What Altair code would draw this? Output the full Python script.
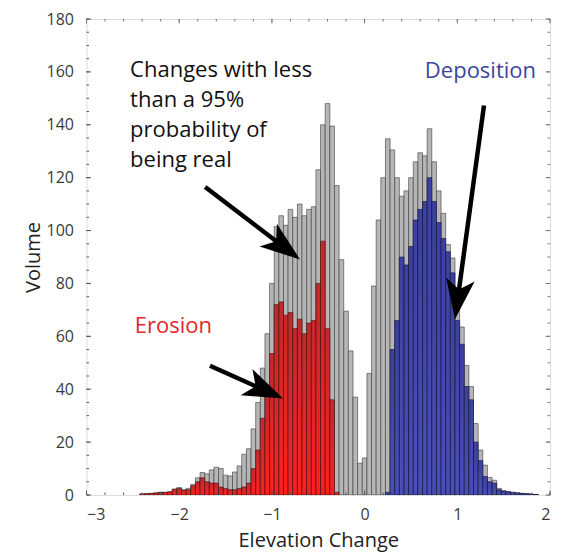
import math
import numpy as np
import pandas as pd
import altair as alt

# ---- data (bin centres every 0.05) ----
centers = [round(v, 2) for v in np.arange(-2.40, 1.851, 0.05)]
total = [0.4, 0.5, 0.6, 0.8, 1.0, 1.0, 1.2, 2.2, 2.8, 2.0,
         2.5, 4.0, 6.5, 8.5, 8.0, 9.5, 10.5, 10.0, 7.5, 7.2,
         8.7, 11.0, 15.4, 17.5, 25.0, 35.0, 48.0, 61.0, 80.0, 101.5,
         105.6, 102.0, 108.0, 105.0, 110.0, 105.6, 108.0, 109.0, 123.0, 140.0,
         148.0, 139.5, 117.0, 89.0, 69.5, 54.5, 37.0, 12.0, 14.0, 46.0,
         79.0, 104.0, 120.0, 134.7, 130.5, 120.0, 113.0, 115.0, 120.0, 126.0,
         129.4, 128.3, 138.5, 126.0, 115.0, 106.5, 94.7, 89.6, 70.0, 63.5,
         49.0, 41.0, 27.0, 17.0, 11.3, 6.6, 5.6, 2.5, 1.6, 1.3,
         1.0, 0.8, 0.6, 0.5, 0.3, 0.2]
significant = [0.4, 0.5, 0.6, 0.8, 1.0, 1.0, 1.2, 2.2, 2.5, 1.8,
               2.0, 3.5, 5.0, 6.5, 5.0, 4.5, 4.5, 3.0, 2.5, 2.0,
               2.0, 2.5, 3.0, 4.5, 10.0, 17.0, 29.0, 40.0, 53.5, 72.0,
               73.0, 68.0, 69.0, 63.0, 66.5, 61.0, 65.0, 66.0, 80.0, 96.0,
               63.0, 36.0, 1.0, 0, 0, 0, 0, 0, 0, 0,
               0, 0, 0, 1.0, 55.0, 66.0, 90.0, 87.0, 94.0, 104.0,
               108.0, 111.0, 120.0, 111.0, 103.0, 97.0, 92.0, 84.0, 66.0, 57.0,
               41.0, 36.0, 20.0, 13.0, 7.0, 5.0, 4.5, 2.0, 1.5, 1.2,
               1.0, 0.8, 0.6, 0.5, 0.3, 0.2]
bin_width = 0.05

x_major = [-3, -2, -1, 0, 1, 2]
x_minor = [round(v, 1) for v in np.arange(-3, 2.01, 0.2)]
y_major = list(range(0, 181, 20))
y_minor = list(range(0, 181, 5))

# annotations (data coordinates)
labels = ["Changes with less", "than a 95%", "probability of", "being real", "Deposition", "Erosion"]
label_x = [-2.53, -2.53, -2.53, -2.53, 0.65, -2.48]
label_y = [160.8, 149.4, 138.0, 126.6, 160.3, 64.0]
label_color = ["#111111", "#111111", "#111111", "#111111", "#3b469c", "#e4262a"]

arrow_x0 = [-1.72, -1.668, 1.288]
arrow_y0 = [116.5, 48.9, 147.3]
arrow_x1 = [-0.697, -0.88, 0.975]
arrow_y1 = [89.1, 36.5, 66.5]

W, H = 463.5, 476
XD = [-3, 2]
YD = [0, 180]
sx = W / (XD[1] - XD[0])
sy = H / (YD[1] - YD[0])
HEAD = 40  # px length of arrow head

df = pd.DataFrame({"c": centers, "total": total, "sig": significant})
df["x0"] = df["c"] - bin_width / 2
df["x1"] = df["c"] + bin_width / 2

xs = alt.Scale(domain=XD, nice=False, zero=False)
ys = alt.Scale(domain=YD, nice=False)

font = "Open Sans"

gray = alt.Chart(df).mark_bar(fill="#b6b6b6", stroke="#3a3a3a", strokeWidth=0.6, clip=True).encode(
    x=alt.X("x0:Q", scale=xs, axis=alt.Axis(values=x_major, format="d", grid=False, ticks=False, domain=False,
                                            labelFontSize=16, labelColor="#3a3a3a", labelFont=font, labelPadding=11,
                                            title="Elevation Change", titleFontSize=20, titleFont=font,
                                            titleFontWeight="normal", titleColor="#222222", titlePadding=8)),
    x2="x1:Q",
    y=alt.Y("total:Q", scale=ys, axis=alt.Axis(values=y_major, grid=False, ticks=False, domain=False,
                                               labelFontSize=16, labelColor="#3a3a3a", labelFont=font, labelPadding=13,
                                               title="Volume", titleFontSize=20, titleFont=font,
                                               titleFontWeight="normal", titleColor="#222222", titlePadding=3)),
    y2=alt.datum(0),
)

red_grad = alt.Gradient(gradient="linear", x1=0, x2=0, y1=0, y2=1,
                        stops=[alt.GradientStop(color="#c02a2e", offset=0),
                               alt.GradientStop(color="#ff2020", offset=1)])
blue_grad = alt.Gradient(gradient="linear", x1=0, x2=0, y1=0, y2=1,
                         stops=[alt.GradientStop(color="#3c40a0", offset=0),
                                alt.GradientStop(color="#4a4eb8", offset=1)])

red = alt.Chart(df).transform_filter("datum.c < 0 && datum.sig > 0").mark_bar(
    fill=red_grad, stroke="#3a1010", strokeWidth=0.6, clip=True).encode(
    x=alt.X("x0:Q", scale=xs), x2="x1:Q", y=alt.Y("sig:Q", scale=ys), y2=alt.datum(0))
blue = alt.Chart(df).transform_filter("datum.c > 0 && datum.sig > 0").mark_bar(
    fill=blue_grad, stroke="#101030", strokeWidth=0.6, clip=True).encode(
    x=alt.X("x0:Q", scale=xs), x2="x1:Q", y=alt.Y("sig:Q", scale=ys), y2=alt.datum(0))

# arrows
rows = []
for a, b, c, d in zip(arrow_x0, arrow_y0, arrow_x1, arrow_y1):
    dx = (c - a) * sx
    dy = -(d - b) * sy
    L = math.hypot(dx, dy)
    ux, uy = dx / L, dy / L
    ang = math.degrees(math.atan2(ux, -uy)) % 360
    hx = c - ux * (HEAD / 2) / sx
    hy = d + uy * (HEAD / 2) / sy
    rows.append({"x0": a, "y0": b, "hx": hx, "hy": hy, "ang": ang})
adf = pd.DataFrame(rows)

arrow_lines = alt.Chart(adf).mark_rule(color="black", strokeWidth=4.5).encode(
    x=alt.X("x0:Q", scale=xs), y=alt.Y("y0:Q", scale=ys), x2="hx:Q", y2="hy:Q")
arrow_heads = alt.Chart(adf).mark_point(
    shape="M0,-1L0.72,1L0,0.5L-0.72,1Z", filled=True, fill="black", opacity=1,
    size=HEAD * HEAD).encode(
    x=alt.X("hx:Q", scale=xs), y=alt.Y("hy:Q", scale=ys), angle=alt.Angle("ang:Q", scale=None))

ldf = pd.DataFrame({"t": labels, "x": label_x, "y": label_y, "col": label_color})
texts = alt.Chart(ldf).mark_text(align="left", baseline="middle", fontSize=22, font=font).encode(
    x=alt.X("x:Q", scale=xs), y=alt.Y("y:Q", scale=ys), text="t:N", color=alt.Color("col:N", scale=None))

# inward ticks on all four sides
def xticks(vals, ln):
    d = pd.DataFrame({"v": vals})
    bot = alt.Chart(d).mark_rule(color="#555555", strokeWidth=1).encode(
        x=alt.X("v:Q", scale=xs), y=alt.value(H), y2=alt.value(H - ln))
    top = alt.Chart(d).mark_rule(color="#777777", strokeWidth=1).encode(
        x=alt.X("v:Q", scale=xs), y=alt.value(0), y2=alt.value(ln))
    return [bot, top]

def yticks(vals, ln):
    d = pd.DataFrame({"v": vals})
    left = alt.Chart(d).mark_rule(color="#555555", strokeWidth=1).encode(
        y=alt.Y("v:Q", scale=ys), x=alt.value(0), x2=alt.value(ln))
    right = alt.Chart(d).mark_rule(color="#777777", strokeWidth=1).encode(
        y=alt.Y("v:Q", scale=ys), x=alt.value(W), x2=alt.value(W - ln))
    return [left, right]

tick_layers = xticks(x_minor, 2.5) + xticks(x_major, 4.5) + yticks(y_minor, 2.5) + yticks(y_major, 4.5)

chart = alt.layer(gray, red, blue, *tick_layers, arrow_lines, arrow_heads, texts).properties(
    width=W, height=H,
    autosize=alt.AutoSizeParams(type="none"),
    padding={"left": 78.5, "top": 11, "right": 8, "bottom": 57},
).configure_view(stroke="#9a9a9a", strokeWidth=1.5).configure(background="white")

chart.save("out.html", embed_options={"renderer": "svg", "actions": False})
